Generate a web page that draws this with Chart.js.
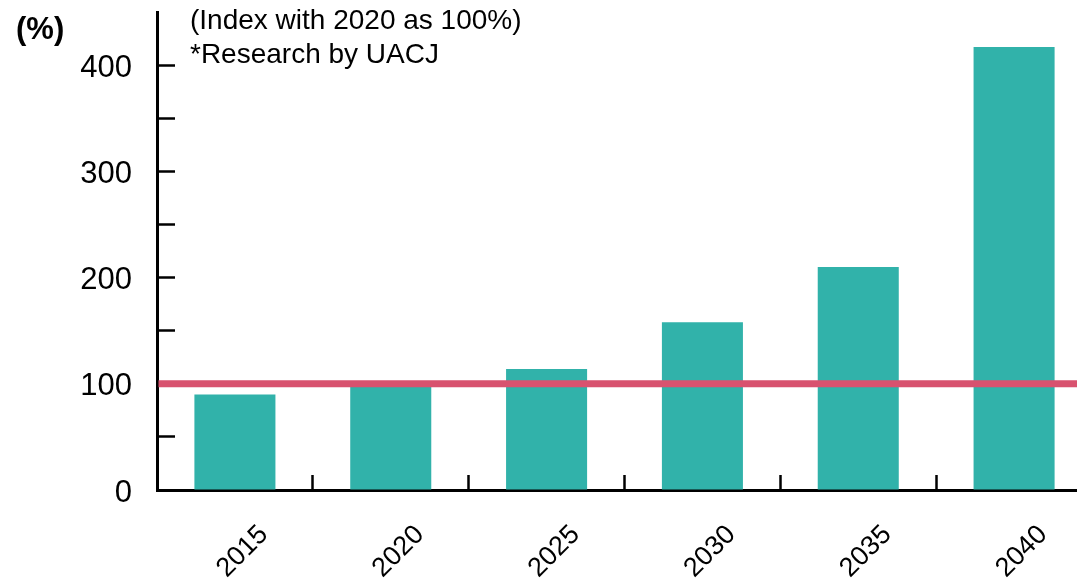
<!DOCTYPE html>
<html>
<head>
<meta charset="utf-8">
<script src="https://cdn.jsdelivr.net/npm/chart.js@4/dist/chart.umd.min.js"></script>
<style>
    html, body { margin: 0; padding: 0; background: #fff; overflow: hidden; }
    #wrap { width: 1092px; height: 582px; position: relative; }
</style>
</head>
<body>
<div id="wrap"><canvas id="indexChart"></canvas></div>
<script>
// Data
var years = ["2015", "2020", "2025", "2030", "2035", "2040"];
var indexValues = [90, 100, 114, 158, 210, 417];
var baseValue = 100; // 2020 = 100%
var yMax = 450;
var yStep = 50;
var noteLines = ["(Index with 2020 as 100%)", "*Research by UACJ"];
var unitLabel = "(%)";

var FONT = "'Liberation Sans', Arial, sans-serif";

//Reference line + notes
var overlayPlugin = {
    id: "overlay",
    afterDatasetsDraw: function(chart)
    {
        var ctx = chart.ctx;
        var area = chart.chartArea;
        var y = chart.scales.y.getPixelForValue(baseValue);

        ctx.save();
        ctx.strokeStyle = "#d8526f";
        ctx.lineWidth = 7;
        ctx.beginPath();
        ctx.moveTo(area.left + 1.5, y);
        ctx.lineTo(area.right, y);
        ctx.stroke();
        ctx.restore();
    },
    afterDraw: function(chart)
    {
        var ctx = chart.ctx;
        ctx.save();
        ctx.fillStyle = "#000";
        ctx.textAlign = "left";
        ctx.textBaseline = "alphabetic";

        ctx.font = "bold 31px " + FONT;
        ctx.fillText(unitLabel, 16, 39);

        ctx.font = "28px " + FONT;
        ctx.fillText(noteLines[0], 190, 29);
        ctx.fillText(noteLines[1], 190, 63);
        ctx.restore();
    }
};

function noPadding(scale)
{
    scale.paddingTop = 0;
    scale.paddingBottom = 0;
    scale.paddingLeft = 0;
    scale.paddingRight = 0;
}

new Chart(document.getElementById("indexChart"), {
    type: "bar",
    data: {
        labels: years,
        datasets: [{
            data: indexValues,
            backgroundColor: "#31b2aa",
            borderWidth: 0,
            barPercentage: 0.52,
            categoryPercentage: 1
        }]
    },
    options: {
        responsive: true,
        maintainAspectRatio: false,
        animation: false,
        layout: { padding: { top: 12, right: 0, left: 0, bottom: 0 } },
        plugins: {
            legend: { display: false },
            tooltip: { enabled: false }
        },
        scales: {
            x: {
                afterFit: function(scale) { scale.height = 92; noPadding(scale); },
                border: { color: "#000", width: 3 },
                grid: {
                    drawOnChartArea: false,
                    tickLength: -15,
                    tickWidth: 2.5,
                    color: "#000",
                    offset: true
                },
                ticks: {
                    color: "#000",
                    font: { family: FONT, size: 27 },
                    minRotation: 45,
                    maxRotation: 45,
                    padding: 44,
                    labelOffset: 29
                }
            },
            y: {
                min: 0,
                max: yMax,
                afterFit: function(scale) { scale.width = 157; noPadding(scale); },
                border: { color: "#000", width: 3 },
                grid: {
                    drawOnChartArea: false,
                    tickLength: -18,
                    tickWidth: 2.5,
                    color: function(c) {
                        return (c.tick && c.tick.value === yMax) ? "rgba(0,0,0,0)" : "#000";
                    }
                },
                ticks: {
                    stepSize: yStep,
                    color: "#000",
                    font: { family: FONT, size: 31 },
                    padding: 43,
                    labelOffset: 3,
                    callback: function(value) {
                        return value % 100 === 0 ? value : "";
                    }
                }
            }
        }
    },
    plugins: [overlayPlugin]
});
</script>
</body>
</html>
